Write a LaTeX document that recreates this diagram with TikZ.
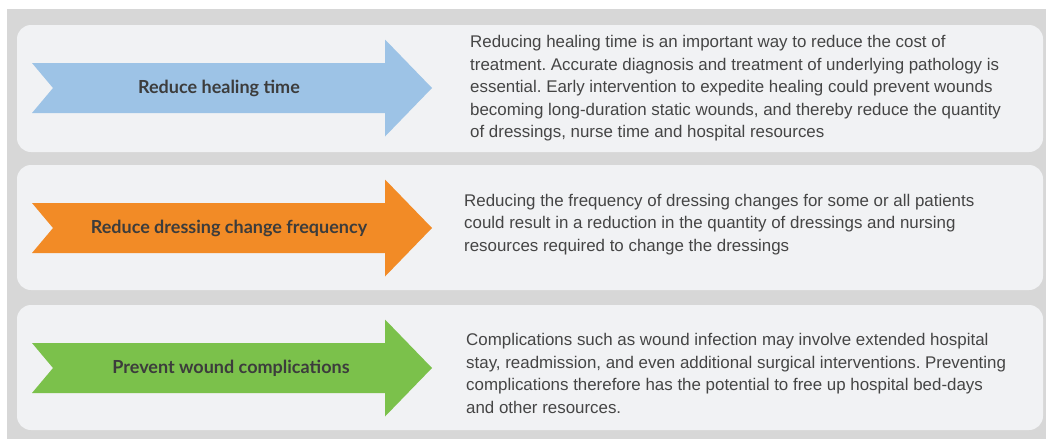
\documentclass[tikz,border=0pt]{standalone}
\usepackage{fontspec}
\setmainfont{Liberation Sans}
\newfontfamily\bodyfont{Liberation Sans}
\newfontfamily\labelfont{Lato}
\frenchspacing
\definecolor{bggrey}{HTML}{D7D7D7}
\definecolor{panelfill}{HTML}{F1F2F4}
\definecolor{txtgrey}{HTML}{3C3C3C}
\definecolor{bodygrey}{HTML}{454545}
\definecolor{arrblue}{HTML}{9DC3E6}
\definecolor{arrorange}{HTML}{F28B26}
\definecolor{arrgreen}{HTML}{7BC14B}
\tikzset{
  panel/.style={fill=panelfill, draw=none, rounded corners=14pt},
  arrowlabel/.style={font=\labelfont\bfseries\fontsize{18}{21}\selectfont, text=txtgrey, inner sep=0pt},
  bodytext/.style={font=\bodyfont\fontsize{16.9}{22.5}\selectfont, text=bodygrey, align=left, anchor=north west, inner sep=0pt},
}
% first-line strut: the node top lies 13 units above the first baseline
\newcommand\firstline{\rule{0pt}{13pt}}
% fat arrow with a notched tail, centred vertically on #2, filled with #1
\newcommand\fatarrow[2]{%
  \fill[#1] (32,#2-25) -- (385,#2-25) -- (385,#2-48.5) -- (432,#2) -- (385,#2+48.5)
    -- (385,#2+25) -- (32,#2+25) -- (53,#2) -- cycle;}
\begin{document}
\begin{tikzpicture}[x=1pt,y=-1pt]
  \useasboundingbox (0,0) rectangle (1046,439);
  \fill[white] (0,0) rectangle (1046,439);
  \fill[bggrey] (7,9) rectangle (1046,439);

  % three rows
  \fill[panel] (17,25) rectangle (1043,152);
  \fill[panel] (17,165) rectangle (1043,290);
  \fill[panel] (17,305) rectangle (1043,430);

  \fatarrow{arrblue}{88}
  \fatarrow{arrorange}{228}
  \fatarrow{arrgreen}{368}

  \node[arrowlabel] (l1) at (219,88) {Reduce healing time};
  \node[arrowlabel] (l2) at (229,228) {Reduce dressing change frequency};
  \node[arrowlabel] (l3) at (231,368) {Prevent wound complications};

  \node[bodytext] (t1) at (470,47.5-13) {\firstline Reducing healing time is an important way to reduce the cost of\\
    treatment. Accurate diagnosis and treatment of underlying pathology is\\
    essential. Early intervention to expedite healing could prevent wounds\\
    becoming long-duration static wounds, and thereby reduce the quantity\\
    of dressings, nurse time and hospital resources};
  \node[bodytext] (t2) at (464,206-13) {\firstline Reducing the frequency of dressing changes for some or all patients\\
    could result in a reduction in the quantity of dressings and nursing\\
    resources required to change the dressings};
  \node[bodytext] (t3) at (466,345.5-13) {\firstline Complications such as wound infection may involve extended hospital\\
    stay, readmission, and even additional surgical interventions. Preventing\\
    complications therefore has the potential to free up hospital bed-days\\
    and other resources.};
\end{tikzpicture}
\end{document}
